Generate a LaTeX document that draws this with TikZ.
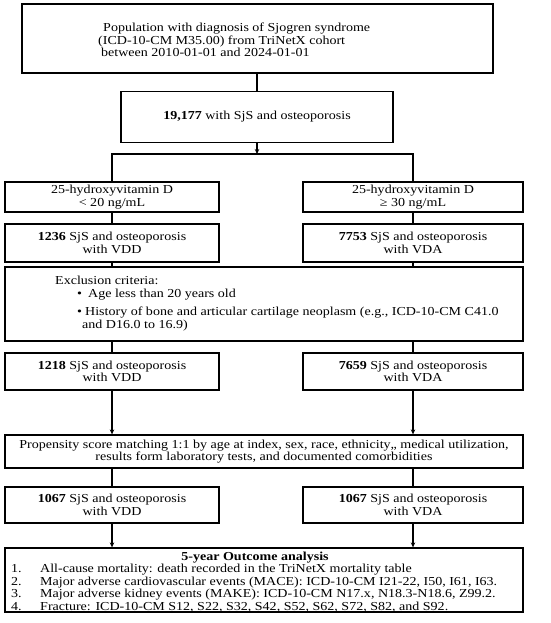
\documentclass[tikz,border=0pt]{standalone}
\usepackage{fontspec}
\setmainfont{Liberation Serif}[FakeStretch=1.15]
\usetikzlibrary{arrows.meta}
\newcommand\fsz{\fontsize{12.2}{12.5}\selectfont}
\begin{document}
\begin{tikzpicture}[x=1pt,y=-1pt,
  box/.style={draw, line width=1.3pt, inner sep=0pt, align=center, font=\fsz},
  txt/.style={inner sep=0pt, anchor=west, align=left, font=\fsz},
  conn/.style={line width=1.3pt},
  arr/.style={conn, -{Stealth[length=5pt,width=4.5pt]}}]
\useasboundingbox (0,0) rectangle (550,623);
% boxes
\node[box, minimum width=471pt, minimum height=69pt] (b1) at (257.5,38.5) {};
\node[txt] (t1) at (98,40) {\hspace{5pt}Population with diagnosis of Sjogren syndrome\\(ICD-10-CM M35.00) from TriNetX cohort\\\hspace{3pt}between 2010-01-01 and 2024-01-01};
\node[box, minimum width=272pt, minimum height=51pt] (b2) at (257,117) {\textbf{19,177} with SjS and osteoporosis};
\node[box, minimum width=214pt, minimum height=30pt] (b3l) at (112,197) {25-hydroxyvitamin D\\< 20 ng/mL};
\node[box, minimum width=220pt, minimum height=30pt] (b3r) at (413,197) {25-hydroxyvitamin D\\≥ 30 ng/mL};
\node[box, minimum width=214pt, minimum height=38pt] (b4l) at (112,243) {\textbf{1236} SjS and osteoporosis\\with VDD};
\node[box, minimum width=220pt, minimum height=38pt] (b4r) at (413,243) {\textbf{7753} SjS and osteoporosis\\with VDA};
\node[box, minimum width=518pt, minimum height=74pt] (ex) at (264,304) {};
\node[txt] (ex0) at (55,280) {Exclusion criteria:};
\node[txt] (ex1b) at (77,295) {•};
\node[txt] (ex1) at (88,295) {Age less than 20 years old};
\node[txt] (ex2b) at (77,313) {•};
\node[txt] (ex2) at (85,313) {History of bone and articular cartilage neoplasm (e.g., ICD-10-CM C41.0};
\node[txt] (ex3) at (82,326) {and D16.0 to 16.9)};
\node[box, minimum width=214pt, minimum height=37pt] (b5l) at (112,371.5) {\textbf{1218} SjS and osteoporosis\\with VDD};
\node[box, minimum width=220pt, minimum height=37pt] (b5r) at (413,371.5) {\textbf{7659} SjS and osteoporosis\\with VDA};
\node[box, minimum width=518pt, minimum height=33pt] (ps) at (264,451.5) {Propensity score matching 1:1 by age at index, sex, race, ethnicity,, medical utilization,\\results form laboratory tests, and documented comorbidities};
\node[box, minimum width=214pt, minimum height=36pt] (b6l) at (112,505) {\textbf{1067} SjS and osteoporosis\\with VDD};
\node[box, minimum width=220pt, minimum height=36pt] (b6r) at (413,505) {\textbf{1067} SjS and osteoporosis\\with VDA};
\node[box, minimum width=518pt, minimum height=64pt] (oc) at (264,580) {};
\node[inner sep=0pt, font=\fsz] (oct) at (255,557.5) {\textbf{5-year Outcome analysis}};
\node[txt] (oc1) at (11,570) {\makebox[29pt][l]{1.}All-cause mortality: death recorded in the TriNetX mortality table};
\node[txt] (oc2) at (11,582.5) {\makebox[29pt][l]{2.}Major adverse cardiovascular events (MACE): ICD-10-CM I21-22, I50, I61, I63.};
\node[txt] (oc3) at (11,595) {\makebox[29pt][l]{3.}Major adverse kidney events (MAKE): ICD-10-CM N17.x, N18.3-N18.6, Z99.2.};
\node[txt] (oc4) at (11,607) {\makebox[29pt][l]{4.}Fracture: ICD-10-CM S12, S22, S32, S42, S52, S62, S72, S82, and S92.};
% connectors
\coordinate (sp) at (257,154);
\coordinate (spl) at (112,154);
\coordinate (spr) at (413,154);
\draw[conn] (b1.south -| b2.north) -- (b2.north);
\draw[arr] (b2.south) -- (sp);
\draw[conn] ([xshift=-0.65pt]spl) -- ([xshift=0.65pt]spr);
\draw[conn] (spl) -- (b3l.north);
\draw[conn] (spr) -- (b3r.north);
\draw[conn] (b3l) -- (b4l);
\draw[conn] (b3r) -- (b4r);
\draw[conn] (b4l.south) -- (b4l.south |- ex.north);
\draw[conn] (b4r.south) -- (b4r.south |- ex.north);
\draw[conn] (b5l.north |- ex.south) -- (b5l.north);
\draw[conn] (b5r.north |- ex.south) -- (b5r.north);
\draw[arr] (b5l.south) -- (b5l.south |- ps.north);
\draw[arr] (b5r.south) -- (b5r.south |- ps.north);
\draw[conn] (b6l.north |- ps.south) -- (b6l.north);
\draw[conn] (b6r.north |- ps.south) -- (b6r.north);
\draw[arr] (b6l.south) -- (b6l.south |- oc.north);
\draw[arr] (b6r.south) -- (b6r.south |- oc.north);
\end{tikzpicture}
\end{document}
